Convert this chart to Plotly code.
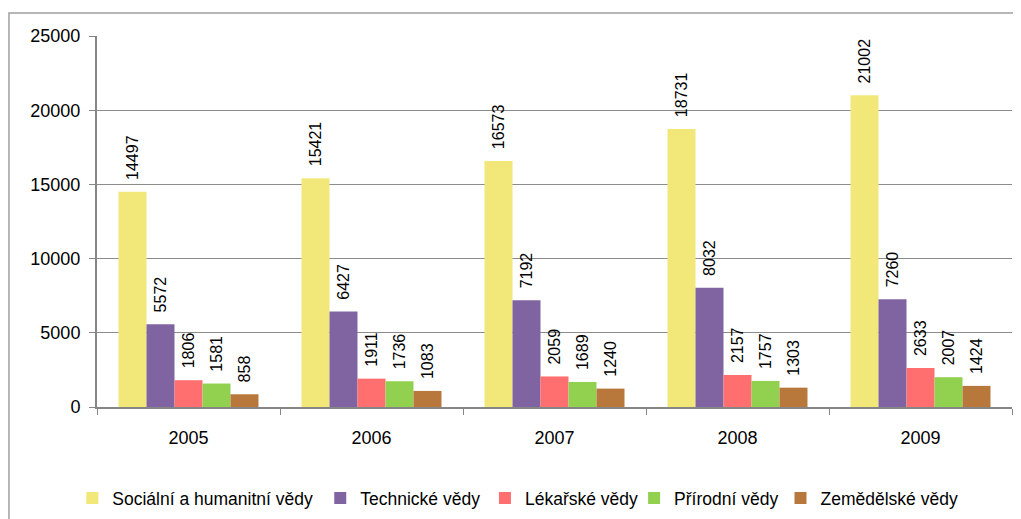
import plotly.graph_objects as go

years = ["2005", "2006", "2007", "2008", "2009"]
series_names = ["Sociální a humanitní vědy", "Technické vědy", "Lékařské vědy", "Přírodní vědy", "Zemědělské vědy"]
socialni = [14497, 15421, 16573, 18731, 21002]
technicke = [5572, 6427, 7192, 8032, 7260]
lekarske = [1806, 1911, 2059, 2157, 2633]
prirodni = [1581, 1736, 1689, 1757, 2007]
zemedelske = [858, 1083, 1240, 1303, 1424]
y_ticks = [0, 5000, 10000, 15000, 20000, 25000]

colors = ["#F2E87A", "#8064A2", "#FF6F6F", "#92D050", "#B8783C"]
values = [socialni, technicke, lekarske, prirodni, zemedelske]
legend_ids = ["legend", "legend2", "legend3", "legend4", "legend5"]
# legend x positions (paper fraction of plot width)
legend_x = [-0.027, 0.244, 0.424, 0.587, 0.747]

FONT = "Liberation Sans, Arial, sans-serif"

fig = go.Figure()
for name, vals, c, lid in zip(series_names, values, colors, legend_ids):
    fig.add_trace(go.Bar(
        x=years, y=vals, name=name, marker_color=c, marker_line_width=0,
        text=["  " + str(v) for v in vals], textposition="outside", textangle=-90,
        textfont=dict(family=FONT, size=16, color="#000000"),
        constraintext="none", cliponaxis=False, legend=lid,
    ))

legend_common = dict(orientation="h", y=-0.194, yanchor="top", xanchor="left",
                     font=dict(family=FONT, size=17.5, color="#000000"),
                     bgcolor="rgba(0,0,0,0)", borderwidth=0)
layout_legends = {}
for lid, lx in zip(legend_ids, legend_x):
    layout_legends[lid] = dict(legend_common, x=lx)

# the page body adds an 8px offset; margins compensate
fig.update_layout(
    width=1021, height=519,
    margin=dict(l=89, r=17, t=28, b=119),
    paper_bgcolor="white", plot_bgcolor="white",
    barmode="group", bargap=0.235, bargroupgap=0,
    font=dict(family=FONT, size=18, color="#000000"),
    showlegend=True,
    uniformtext=dict(mode=False),
    **layout_legends,
)
fig.update_xaxes(
    showline=True, linecolor="#868686", linewidth=2,
    ticks="outside", ticklen=6, tickcolor="#868686", tickson="boundaries",
    showgrid=False, tickfont=dict(family=FONT, size=18), ticklabelstandoff=13,
)
fig.update_yaxes(
    range=[0, 25000], tickvals=y_ticks, ticktext=[str(t) for t in y_ticks],
    showline=True, linecolor="#868686", linewidth=2,
    ticks="outside", ticklen=6, tickcolor="#868686",
    showgrid=True, gridcolor="#8C8C8C", gridwidth=1, zeroline=False,
    tickfont=dict(family=FONT, size=18), ticklabelstandoff=5,
)
# outer chart border (partly cropped in the reference)
fig.add_shape(type="rect", xref="paper", yref="paper",
              x0=-0.0962, x1=1.03, y0=-0.45, y1=1.0618,
              line=dict(color="#A0A0A0", width=1.5), fillcolor="rgba(0,0,0,0)", layer="below")

fig.write_html("out.html")
